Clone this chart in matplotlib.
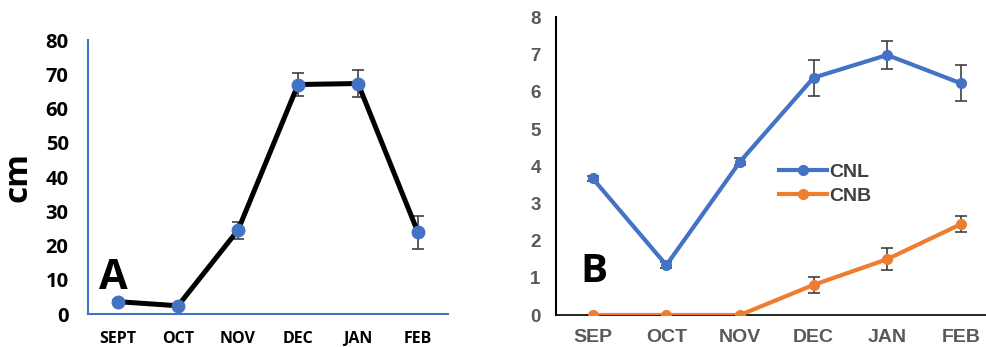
import numpy as np
import matplotlib.pyplot as plt

months_a = ['SEPT', 'OCT', 'NOV', 'DEC', 'JAN', 'FEB']
height_a = [3.6, 2.4, 24.5, 67.0, 67.3, 23.8]
err_a = [0.6, 0.5, 2.5, 3.4, 3.9, 4.8]

months_b = ['SEP', 'OCT', 'NOV', 'DEC', 'JAN', 'FEB']
cnl = [3.67, 1.34, 4.12, 6.38, 6.99, 6.23]
cnl_err = [0.08, 0.08, 0.1, 0.48, 0.37, 0.48]
cnb = [0.0, 0.0, 0.0, 0.81, 1.50, 2.44]
cnb_err = [0.0, 0.0, 0.0, 0.22, 0.29, 0.21]

BLUE = '#4472C4'
ORANGE = '#ED7D31'
GRAY = '#595959'

fig = plt.figure(figsize=(9.87, 3.47), dpi=100)

# panel A
ax1 = fig.add_axes([0.0892, 0.0951, 0.3647, 0.7896])
x = np.arange(len(months_a))
ax1.errorbar(x, height_a, yerr=err_a, fmt='none', ecolor='#404040',
             elinewidth=1.2, capsize=4, capthick=1.2, zorder=2)
ax1.plot(x, height_a, '-', color='black', lw=3.6, zorder=3)
ax1.plot(x, height_a, 'o', color=BLUE, ms=9, zorder=4)
ax1.set_xlim(-0.5, 5.5)
ax1.set_ylim(0, 80)
ax1.set_yticks(range(0, 81, 10))
ax1.set_xticks(x)
ax1.set_xticklabels(months_a)
for s in ['top', 'right']:
    ax1.spines[s].set_visible(False)
for s in ['left', 'bottom']:
    ax1.spines[s].set_color(BLUE)
    ax1.spines[s].set_linewidth(1.5)
ax1.tick_params(axis='y', length=0, pad=14, labelsize=14.5)
ax1.tick_params(axis='x', length=0, pad=12, labelsize=11.5)
for lab in ax1.get_xticklabels() + ax1.get_yticklabels():
    lab.set_fontweight('bold')
    lab.set_family('Open Sans')
ax1.set_ylabel('cm', fontsize=24, fontweight='bold', family='Open Sans', labelpad=8)
ax1.text(0.07, 0.13, 'A', transform=ax1.transAxes, fontsize=30,
         fontweight='bold', family='Open Sans', va='center', ha='center')

# panel B
ax2 = fig.add_axes([0.5633, 0.0922, 0.4474, 0.8576])
xb = np.arange(len(months_b))
ax2.errorbar(xb, cnl, yerr=cnl_err, fmt='none', ecolor='#404040',
             elinewidth=1.2, capsize=4, capthick=1.2, zorder=2)
ax2.errorbar(xb, cnb, yerr=cnb_err, fmt='none', ecolor='#404040',
             elinewidth=1.2, capsize=4, capthick=1.2, zorder=2)
ax2.plot(xb, cnl, '-o', color=BLUE, lw=3, ms=7, label='CNL', zorder=3)
ax2.plot(xb, cnb, '-o', color=ORANGE, lw=3, ms=7, label='CNB', zorder=3)
ax2.set_xlim(-0.5, 5.5)
ax2.set_ylim(0, 8)
ax2.set_yticks(range(0, 9))
ax2.set_xticks(xb)
ax2.set_xticklabels(months_b)
for s in ['top', 'right']:
    ax2.spines[s].set_visible(False)
ax2.spines['left'].set_color('black')
ax2.spines['left'].set_linewidth(1.5)
ax2.spines['bottom'].set_color('black')
ax2.spines['bottom'].set_linewidth(1.2)
ax2.tick_params(axis='y', length=0, pad=11, labelsize=13.5, labelcolor=GRAY)
ax2.tick_params(axis='x', length=0, pad=10, labelsize=14, labelcolor=GRAY)
for lab in ax2.get_xticklabels() + ax2.get_yticklabels():
    lab.set_fontweight('bold')
    lab.set_family('Liberation Sans')
leg = ax2.legend(loc='center left', bbox_to_anchor=(0.465, 0.44), frameon=False,
                 handlelength=2.5, handletextpad=0.1, labelspacing=0.35,
                 prop={'family': 'Liberation Sans', 'weight': 'bold', 'size': 14})
for t in leg.get_texts():
    t.set_color('#404040')
ax2.text(0.085, 0.145, 'B', transform=ax2.transAxes, fontsize=29,
         fontweight='bold', family='Open Sans', va='center', ha='center')

fig.savefig('out.png', dpi=100)
